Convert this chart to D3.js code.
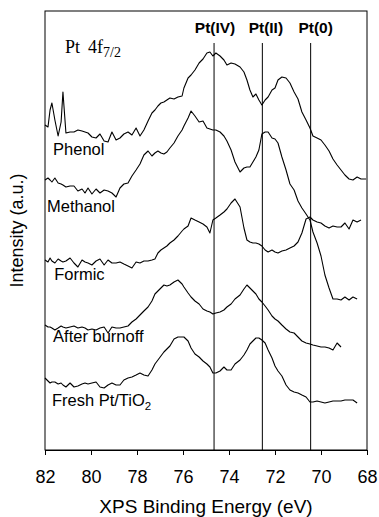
<!DOCTYPE html>
<html>
<head>
  <meta charset="UTF-8">
  <style>
    body { margin: 0; background: white; }
    svg { display: block; }
    .lbl { font-family: "Liberation Sans", Arial, sans-serif; font-size: 16.5px; fill: black; }
    .axis text { font-family: "Liberation Sans", Arial, sans-serif; font-size: 18px; }
  </style>
</head>
<body>
<svg></svg>
<script src="https://d3js.org/d3.v7.min.js"></script>
<script>

// binding energy (eV)
let energy = [
  82.00, 81.87, 81.78, 81.70, 81.57, 81.43, 81.30, 81.22, 81.09, 80.91,
  80.74, 80.57, 80.39, 80.26, 80.13, 79.96, 79.78, 79.61, 79.43, 79.26,
  79.09, 78.91, 78.74, 78.57, 78.39, 78.22, 78.04, 77.87, 77.70, 77.52,
  77.35, 77.22, 77.09, 76.96, 76.83, 76.70, 76.57, 76.39, 76.22, 76.04,
  75.96, 75.78, 75.65, 75.48, 75.30, 75.13, 74.96, 74.83, 74.70, 74.57,
  74.39, 74.22, 74.09, 73.91, 73.74, 73.52, 73.35, 73.22, 73.09, 72.96,
  72.83, 72.70, 72.57, 72.43, 72.30, 72.13, 72.00, 71.87, 71.70, 71.52,
  71.35, 71.17, 71.00, 70.83, 70.65, 70.48, 70.35, 70.17, 70.00, 69.83,
  69.65, 69.48, 69.30, 69.13, 68.96, 68.78, 68.61, 68.43, 68.26, 68.04
];

// intensities (a.u., stacked offsets included)
let phenol = [
  325,323,340,347,330,314,328,358,317,318,
  318,320,319,318,317,313,312,316,309,308,
  318,310,312,316,318,315,322,314,320,329,
  337,340,344,347,348,350,352,351,353,354,
  362,372,375,380,387,391,397,398,394,397,
  394,390,385,387,386,383,378,370,360,353,
  356,350,345,350,353,360,362,370,373,372,
  367,358,351,338,330,322,314,312,310,305,
  299,291,285,280,275,271,270,273,271,271
];
let methanol = [
  270,272,270,268,272,267,266,265,263,264,
  264,259,261,257,262,256,261,257,260,259,
  257,253,262,266,267,274,280,286,295,299,
  294,297,299,297,296,298,302,307,314,320,
  324,332,339,334,328,329,322,321,320,320,
  318,314,309,300,288,278,282,283,283,288,
  293,300,316,318,318,312,311,307,293,280,
  266,260,249,242,236,230,218,207,194,175,
  162,151,151,150,153,150,153,151
];
let formic = [
  190,188,192,189,187,191,189,188,189,192,
  187,183,190,188,187,185,189,191,185,190,
  187,187,188,186,184,182,188,187,189,189,
  190,191,197,200,202,204,207,210,214,219,
  221,224,232,230,228,226,223,217,230,232,
  235,238,241,247,251,243,222,210,208,207,
  207,206,204,200,198,200,198,197,199,200,
  202,204,208,217,231,233,230,228,227,224,
  222,224,223,223,227,221,230,228,230
];
let burnoff = [
  125,123,123,122,120,122,124,123,122,123,
  124,122,123,122,120,121,120,122,123,117,
  123,122,122,123,124,128,131,135,139,143,
  149,156,159,162,165,164,165,168,170,166,
  163,157,153,149,146,141,139,138,136,137,
  138,140,143,146,151,155,161,165,162,159,
  156,151,148,144,140,134,131,129,125,121,
  118,117,113,109,107,106,105,104,103,103,
  102,100,107,103
];
let fresh = [
  72,69,67,68,68,66,67,65,63,67,
  63,64,66,67,66,67,68,63,62,65,
  67,65,65,70,72,73,75,77,75,74,
  80,86,90,94,98,101,104,111,113,113,
  113,109,102,96,93,89,86,83,77,77,
  79,83,80,80,86,90,95,100,106,109,
  112,112,110,107,100,92,84,79,74,65,
  60,58,57,55,53,48,48,49,48,47,
  48,49,49,49,50,50,50,47
];

let xTicks = [82, 80, 78, 76, 74, 72, 70, 68];
let refNames = ["Pt(IV)", "Pt(II)", "Pt(0)"];
let refEnergy = [74.65, 72.55, 70.45];

let width = 379, height = 517;
let margin = {top: 11, right: 12, bottom: 67, left: 45};

let svg = d3.select("svg").attr("width", width).attr("height", height);

let x = d3.scaleLinear().domain([82, 68]).range([margin.left, width - margin.right]);
let y = d3.scaleLinear().domain([0, 439]).range([height - margin.bottom, margin.top]);

// frame
svg.append("rect")
    .attr("x", margin.left).attr("y", margin.top)
    .attr("width", width - margin.left - margin.right)
    .attr("height", height - margin.top - margin.bottom)
    .attr("fill", "none").attr("stroke", "black").attr("stroke-width", 1);

// bottom axis
let axis = svg.append("g")
    .attr("class", "axis")
    .attr("transform", `translate(0,${height - margin.bottom})`)
    .call(d3.axisBottom(x).tickValues(xTicks).tickFormat(d3.format("d"))
        .tickSize(5).tickSizeOuter(0).tickPadding(15));
axis.selectAll("text").attr("font-family", null).attr("font-size", null);

// reference lines
refEnergy.forEach((e, i) => {
  svg.append("line")
      .attr("x1", x(e)).attr("x2", x(e))
      .attr("y1", margin.top + 32).attr("y2", height - margin.bottom)
      .attr("stroke", "black").attr("stroke-width", 1);
  svg.append("text")
      .attr("x", x(e) + [1, 3.5, 5][i]).attr("y", 33)
      .attr("text-anchor", "middle")
      .style("font-family", "'Liberation Sans', Arial, sans-serif")
      .style("font-weight", "bold").style("font-size", "15.5px")
      .text(refNames[i]);
});

// spectra
let line = d3.line()
    .x((d, i) => x(energy[i]))
    .y(d => y(d));

[phenol, methanol, formic, burnoff, fresh].forEach(s => {
  svg.append("path")
      .attr("d", line(s))
      .attr("fill", "none")
      .attr("stroke", "black")
      .attr("stroke-width", 1.1)
      .attr("stroke-linejoin", "round");
});

// curve labels
let labels = [["Phenol", 81.65, 295], ["Methanol", 81.91, 238], ["Formic", 81.6, 170],
              ["After burnoff", 81.65, 108]];
labels.forEach(l => {
  svg.append("text").attr("class", "lbl")
      .attr("x", x(l[1])).attr("y", y(l[2])).text(l[0]);
});
let fr = svg.append("text").attr("class", "lbl").attr("x", x(81.7)).attr("y", y(44));
fr.append("tspan").text("Fresh Pt/TiO");
fr.append("tspan").attr("dy", 4).style("font-size", "11.5px").text("2");

// Pt 4f7/2 title
let t = svg.append("text").attr("x", 65).attr("y", 53)
    .style("font-family", "'Liberation Serif', 'Times New Roman', serif")
    .style("font-size", "18px");
t.append("tspan").text("Pt");
t.append("tspan").attr("dx", 8).text("4f");
t.append("tspan").attr("dy", 4).style("font-size", "14px").text("7/2");

// axis titles
svg.append("text")
    .attr("x", (margin.left + width - margin.right) / 2).attr("y", 513)
    .attr("text-anchor", "middle")
    .style("font-family", "'Liberation Sans', Arial, sans-serif").style("font-size", "19px")
    .text("XPS Binding Energy (eV)");

svg.append("text")
    .attr("transform", `translate(23,${(margin.top + height - margin.bottom) / 2}) rotate(-90)`)
    .attr("text-anchor", "middle")
    .style("font-family", "'Liberation Sans', Arial, sans-serif").style("font-size", "18px")
    .text("Intensity (a.u.)");

</script>
</body>
</html>
